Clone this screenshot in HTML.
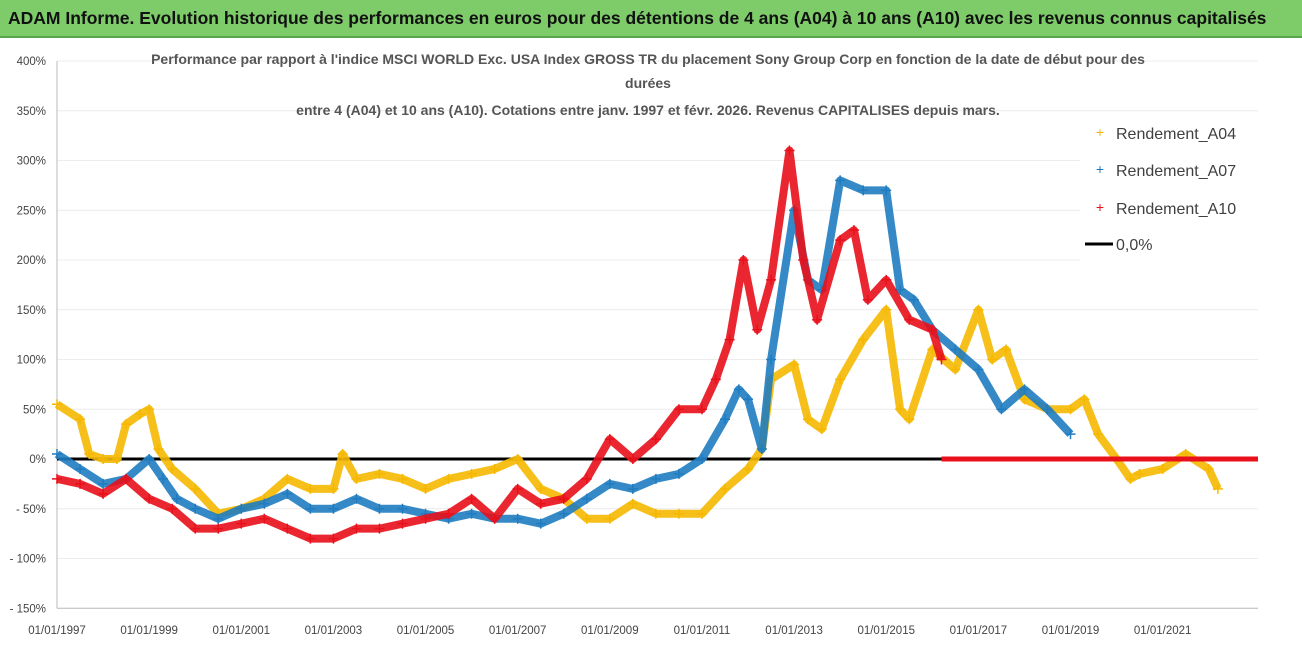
<!DOCTYPE html>
<html><head><meta charset="utf-8"><style>
body{margin:0;width:1302px;height:647px;overflow:hidden;background:#fff;font-family:"Liberation Sans",sans-serif}
#title{position:absolute;left:0;top:0;width:1302px;height:36px;background:#7ecb6a;border-bottom:2px solid #5aa64a;color:#111;font-weight:bold;font-size:17.5px;line-height:36px;text-indent:8px;white-space:nowrap}
svg{position:absolute;left:0;top:0}
</style></head><body>
<div id="title">ADAM Informe. Evolution historique des performances en euros pour des détentions de 4 ans (A04) à 10 ans (A10) avec les revenus connus capitalisés</div>
<svg id="chart" width="1302" height="647"></svg>
<script>
const yTicks=[400,350,300,250,200,150,100,50,0,-50,-100,-150];
const yTickLabels=["400%","350%","300%","250%","200%","150%","100%","50%","0%","- 50%","- 100%","- 150%"];
const xTickYears=[1997,1999,2001,2003,2005,2007,2009,2011,2013,2015,2017,2019,2021];
const xTickLabels=["01/01/1997","01/01/1999","01/01/2001","01/01/2003","01/01/2005","01/01/2007","01/01/2009","01/01/2011","01/01/2013","01/01/2015","01/01/2017","01/01/2019","01/01/2021"];
const a04Dates=[1997,1997.5,1997.7,1998,1998.3,1998.5,1998.8,1999,1999.2,1999.5,2000,2000.5,2001,2001.5,2002,2002.5,2003,2003.2,2003.5,2004,2004.5,2005,2005.5,2006,2006.5,2007,2007.5,2008,2008.5,2009,2009.5,2010,2010.5,2011,2011.5,2012,2012.3,2012.5,2013,2013.3,2013.6,2014,2014.5,2015,2015.3,2015.5,2016,2016.5,2017,2017.3,2017.6,2018,2018.5,2019,2019.3,2019.6,2020,2020.3,2020.5,2021,2021.5,2022,2022.2];
const a04Values=[55,40,5,0,0,35,45,50,10,-10,-30,-55,-50,-40,-20,-30,-30,5,-20,-15,-20,-30,-20,-15,-10,0,-30,-40,-60,-60,-45,-55,-55,-55,-30,-10,10,80,95,40,30,80,120,150,50,40,110,90,150,100,110,60,50,50,60,25,0,-20,-15,-10,5,-10,-30];
const a07Dates=[1997,1997.5,1998,1998.5,1999,1999.3,1999.6,2000,2000.5,2001,2001.5,2002,2002.5,2003,2003.5,2004,2004.5,2005,2005.5,2006,2006.5,2007,2007.5,2008,2008.5,2009,2009.5,2010,2010.5,2011,2011.5,2011.8,2012,2012.3,2012.5,2013,2013.3,2013.6,2014,2014.5,2015,2015.3,2015.6,2016,2016.5,2017,2017.5,2018,2018.5,2019];
const a07Values=[5,-10,-25,-20,0,-20,-40,-50,-60,-50,-45,-35,-50,-50,-40,-50,-50,-55,-60,-55,-60,-60,-65,-55,-40,-25,-30,-20,-15,0,40,70,60,10,100,250,180,170,280,270,270,170,160,130,110,90,50,70,50,25];
const a10Dates=[1997,1997.5,1998,1998.5,1999,1999.5,2000,2000.5,2001,2001.5,2002,2002.5,2003,2003.5,2004,2004.5,2005,2005.5,2006,2006.5,2007,2007.5,2008,2008.5,2009,2009.5,2010,2010.5,2011,2011.3,2011.6,2011.9,2012.2,2012.5,2012.9,2013.2,2013.5,2014,2014.3,2014.6,2015,2015.5,2016,2016.2];
const a10Values=[-20,-25,-35,-20,-40,-50,-70,-70,-65,-60,-70,-80,-80,-70,-70,-65,-60,-55,-40,-60,-30,-45,-40,-20,20,0,20,50,50,80,120,200,130,180,310,200,140,220,230,160,180,140,130,100];
const zeroStart=2016.2, endYear=2023.07;
const X0=57,X1=1258;
const xs=y=>X0+(y-1997)/(endYear-1997)*(X1-X0);
const ys=v=>459-v*0.995;
const svg=document.getElementById('chart');const NS='http://www.w3.org/2000/svg';
function mk(t,a){const e=document.createElementNS(NS,t);for(const k in a)e.setAttribute(k,a[k]);svg.appendChild(e);return e;}
yTicks.forEach((v,i)=>{
 const g=mk('line',{x1:X0,x2:X1,y1:ys(v),y2:ys(v),stroke:'#ececec','stroke-width':1});
 
 
 const t=mk('text',{x:46,y:ys(v)+4,'text-anchor':'end','font-size':11.5,fill:'#444'});t.textContent=yTickLabels[i];
 
 
});
const ax=mk('line',{x1:X0,x2:X0,y1:ys(400),y2:ys(-150),stroke:'#bbb'});


const bx=mk('line',{x1:X0,x2:X1,y1:ys(-150),y2:ys(-150),stroke:'#bbb'});


xTickYears.forEach((yr,i)=>{
 const t=mk('text',{x:xs(yr),y:634,'text-anchor':'middle','font-size':11.5,fill:'#444'});t.textContent=xTickLabels[i];
 
 
});
const zl=mk('line',{x1:X0,x2:xs(zeroStart),y1:ys(0),y2:ys(0),stroke:'#000','stroke-width':3});


function series(dates,vals,color,name){
 const g=mk('g',{});
 
 
 const pts=dates.map((d,i)=>xs(d)+','+ys(vals[i])).join(' ');
 const pl=document.createElementNS(NS,'polyline');
 pl.setAttribute('points',pts);pl.setAttribute('fill','none');pl.setAttribute('stroke',color);pl.setAttribute('stroke-width',8);pl.setAttribute('stroke-linejoin','round');pl.setAttribute('stroke-opacity',0.9);
 g.appendChild(pl);svg.appendChild(g);
 dates.forEach((d,i)=>{
  const p=document.createElementNS(NS,'path');
  const x=xs(d),y=ys(vals[i]);
  p.setAttribute('d',`M${x-5},${y}H${x+5}M${x},${y-5}V${y+5}`);
  p.setAttribute('stroke',color);p.setAttribute('stroke-width',1.5);
  
  
  g.appendChild(p);
 });
}
series(a04Dates,a04Values,'#f5b800','series-a04');
series(a07Dates,a07Values,'#1f7cc0','series-a07');
series(a10Dates,a10Values,'#e8101a','series-a10');
const rz=mk('line',{x1:xs(zeroStart),x2:X1,y1:ys(0),y2:ys(0),stroke:'#e8101a','stroke-width':5});


const tl=["Performance par rapport à l'indice MSCI WORLD Exc. USA Index GROSS TR  du placement Sony Group Corp en fonction de la date de début pour des","durées","entre 4 (A04) et 10 ans (A10). Cotations entre janv. 1997 et févr. 2026. Revenus CAPITALISES depuis mars."];
[[648,64],[648,88],[648,115]].forEach((p,i)=>{
 const t=mk('text',{x:p[0],y:p[1],'text-anchor':'middle','font-size':14,'font-weight':'bold',fill:'#555'});t.textContent=tl[i];
 
 
});
const lb=mk('rect',{x:1080,y:112,width:190,height:150,fill:'#fff'});


[['Rendement_A04','#f5b800',133],['Rendement_A07','#1f7cc0',170],['Rendement_A10','#e8101a',208]].forEach(l=>{
 const p=mk('text',{x:1100,y:l[2]+4,'text-anchor':'middle','font-size':14,fill:l[1]});p.textContent='+';
 
 
 const t=mk('text',{x:1116,y:l[2]+6,'font-size':16,fill:'#404040'});t.textContent=l[0];
 
 
});
const ll=mk('line',{x1:1085,x2:1113,y1:244,y2:244,stroke:'#000','stroke-width':3});


const lt=mk('text',{x:1116,y:250,'font-size':16,fill:'#404040'});lt.textContent='0,0%';


</script>
</body></html>
